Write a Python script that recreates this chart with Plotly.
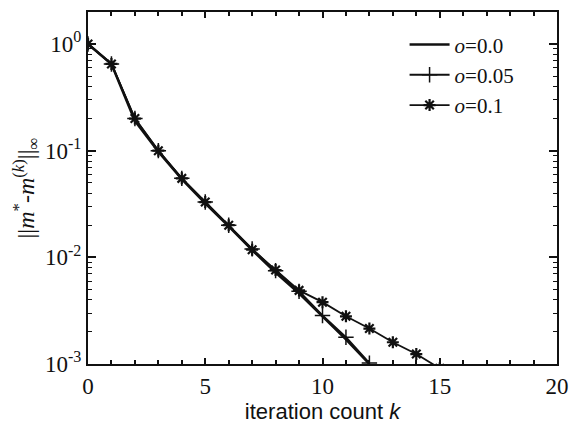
import plotly.graph_objects as go

k0 = [0, 1, 2, 3, 4, 5, 6, 7, 8, 9, 10, 11, 12]
err_o00 = [1.0, 0.65, 0.19, 0.098, 0.054, 0.032, 0.0195, 0.0117, 0.0072, 0.0046, 0.0028, 0.0017, 0.00100]
k1 = [0, 1, 2, 3, 4, 5, 6, 7, 8, 9, 10, 11, 12]
err_o05 = [1.0, 0.65, 0.2, 0.1, 0.055, 0.033, 0.02, 0.012, 0.0075, 0.0048, 0.00285, 0.00178, 0.00102]
k2 = [0, 1, 2, 3, 4, 5, 6, 7, 8, 9, 10, 11, 12, 13, 14, 15]
err_o10 = [1.0, 0.65, 0.2, 0.1, 0.055, 0.033, 0.02, 0.0118, 0.0076, 0.0049, 0.0038, 0.0028, 0.00215, 0.0016, 0.00124, 0.00091]

names = ["<i>o</i>=0.0", "<i>o</i>=0.05", "<i>o</i>=0.1"]
ytickvals = [1e-3, 1e-2, 1e-1, 1e0]
yticktext = ["10<sup>-3</sup>", "10<sup>-2</sup>", "10<sup>-1</sup>", "10<sup>0</sup>"]

serif = "Liberation Serif, Times New Roman, serif"
sans = "Liberation Sans, Arial, sans-serif"

fig = go.Figure()
fig.add_trace(go.Scatter(x=k0, y=err_o00, mode="lines", name=names[0],
                         line=dict(color="#111", width=2.5)))
fig.add_trace(go.Scatter(x=k1, y=err_o05, mode="lines+markers", name=names[1],
                         line=dict(color="#111", width=2),
                         marker=dict(symbol="cross-thin-open", size=11, line=dict(color="#111", width=1.5))))
fig.add_trace(go.Scatter(x=k2, y=err_o10, mode="lines+markers", name=names[2],
                         line=dict(color="#111", width=1.8),
                         marker=dict(symbol="asterisk-open", size=10, line=dict(color="#111", width=2.2))))

fig.update_layout(
    width=579, height=426,
    margin=dict(l=88, r=14, t=10, b=59),
    paper_bgcolor="white", plot_bgcolor="white",
    font=dict(family=serif, color="#111", size=22),
    showlegend=True,
    legend=dict(x=0.675, y=0.965, xanchor="left", yanchor="top",
                bgcolor="rgba(0,0,0,0)", font=dict(family=serif, size=21),
                itemwidth=40, tracegroupgap=0),
)
fig.update_xaxes(
    range=[0, 20], tickvals=[0, 5, 10, 15, 20],
    ticks="inside", ticklen=6, tickwidth=1.5, tickcolor="#111",
    minor=dict(ticks="inside", ticklen=4, tickwidth=1.5, dtick=1, tickcolor="#111"),
    showline=True, linecolor="#111", linewidth=2, mirror="allticks",
    showgrid=False, zeroline=False,
    tickfont=dict(family=serif, size=23),
    title=dict(text="iteration count <i>k</i>", font=dict(family=sans, size=22), standoff=2),
)
fig.update_yaxes(
    type="log", range=[-3, 0.3],
    tickvals=ytickvals, ticktext=yticktext,
    ticks="inside", ticklen=8, tickwidth=1.5, tickcolor="#111",
    minor=dict(ticks="inside", ticklen=4, tickwidth=1.2, dtick="D1", tickcolor="#111"),
    showline=True, linecolor="#111", linewidth=2, mirror="allticks",
    showgrid=False, zeroline=False,
    tickfont=dict(family=serif, size=23),
    title=dict(text="||<i>m</i><sup>*</sup>-<i>m</i><sup>(<i>k</i>)</sup>||<sub>∞</sub>",
               font=dict(family=serif, size=24), standoff=4),
)

fig.write_html("out.html")
